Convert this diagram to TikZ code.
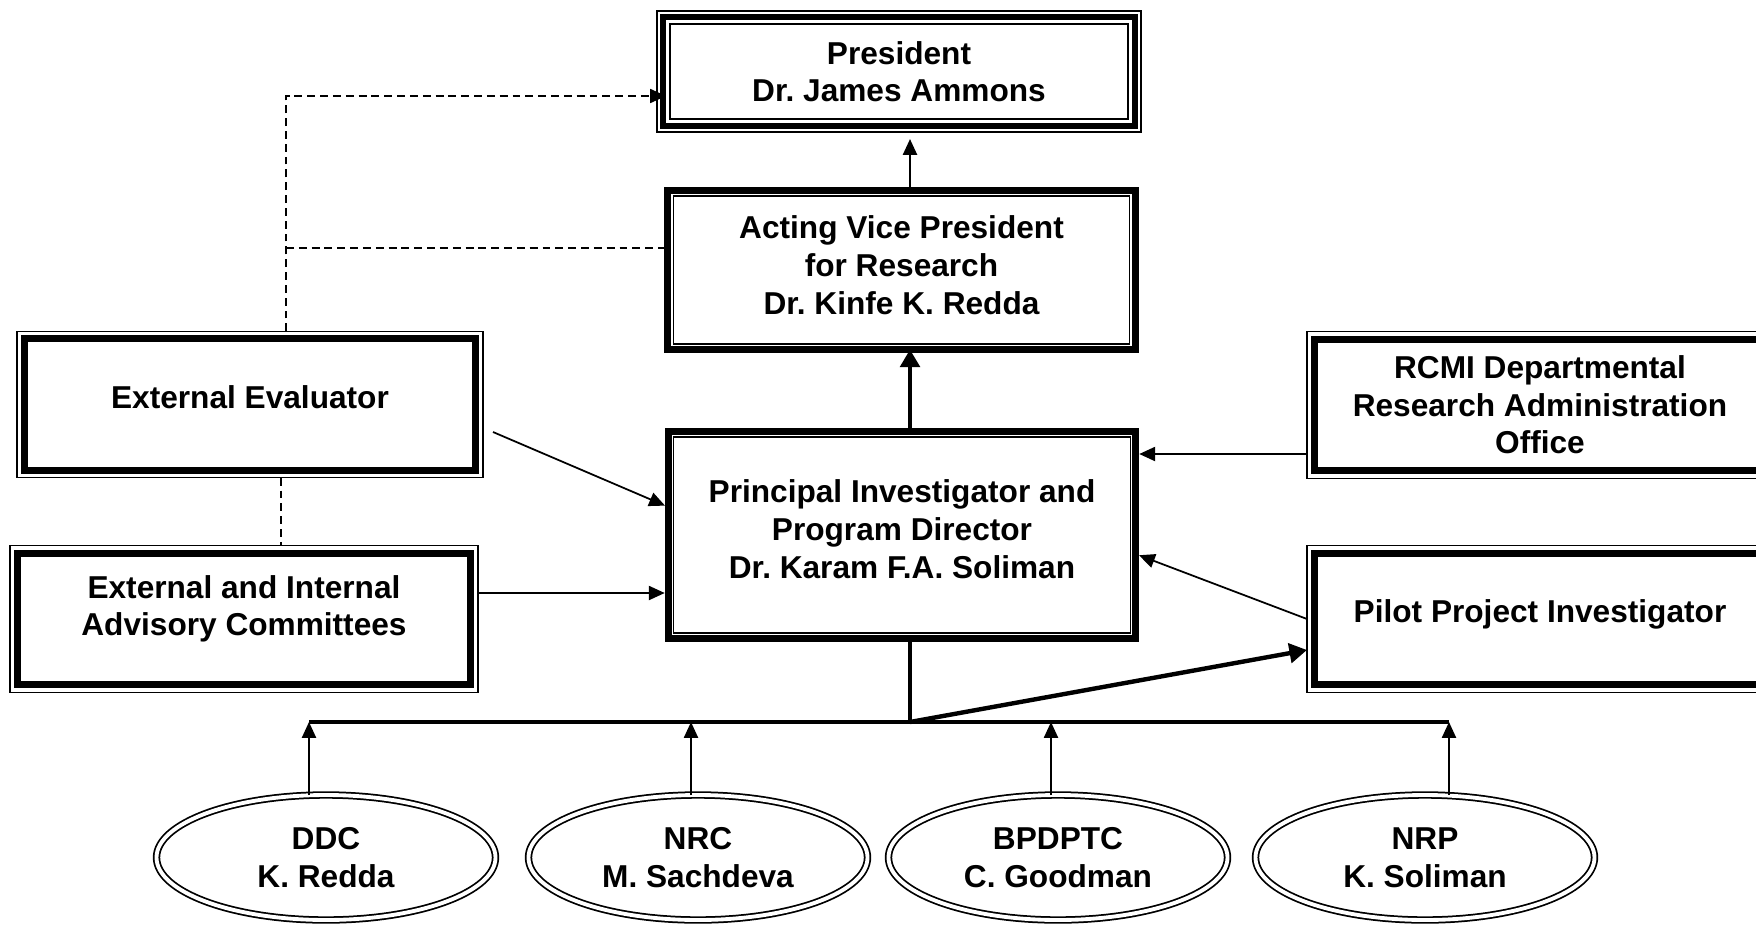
\documentclass[tikz,border=0pt]{standalone}
\usepackage{fontspec}
\setmainfont{Liberation Sans}
\usetikzlibrary{arrows.meta,shapes.geometric}
\frenchspacing

\begin{document}
\begin{tikzpicture}[
        every node/.style={font=\fontsize{18}{21.4}\selectfont\bfseries, align=center, inner sep=0pt, outer sep=0pt},
        thinbox/.style={draw, rectangle, line width=0.8pt, minimum width=9.32cm, minimum height=2.93cm},
        thickbox/.style={draw, rectangle, line width=4pt, minimum width=9.35cm},
        unit/.style={draw, ellipse, double, line width=1pt, double distance=2.2pt, minimum width=6.78cm, minimum height=2.5cm},
        link/.style={-{Triangle[length=9pt,width=8pt]}, line width=1pt},
        heavy/.style={-{Triangle[length=10pt,width=11pt]}, line width=2.5pt},
        dashline/.style={line width=0.8pt, dash pattern=on 4.5pt off 2.8pt}
    ]
        \path[fill=white, use as bounding box] (0,0) rectangle (35.12,-18.5);

        % top
        \node[thinbox, minimum width=9.68cm, minimum height=2.42cm] (pres) at (17.98,-1.43) {President\\Dr. James Ammons};
        \node[thickbox, minimum height=3.18cm, text depth=5.7pt] (vp) at (18.03,-5.4) {Acting Vice President\\for Research\\Dr. Kinfe K. Redda};
        \node[thickbox, minimum height=4.14cm, text depth=6.8pt] (pi) at (18.04,-10.7) {Principal Investigator and\\Program Director\\Dr. Karam F.A. Soliman};

        % left side
        \node[thinbox, text depth=9pt] (evaluator) at (5.0,-8.09) {External Evaluator};
        \node[thinbox, minimum width=9.36cm, text depth=15.2pt] (advisory) at (4.88,-12.38) {External and Internal\\Advisory Committees};

        % right side
        \node[thinbox] (rcmi) at (30.8,-8.1) {RCMI Departmental\\Research Administration\\Office};
        \node[thinbox, text depth=9.4pt] (pilot) at (30.8,-12.38) {Pilot Project Investigator};

        % cores
        \node[unit] (ddc) at (6.52,-17.15) {DDC\\K. Redda};
        \node[unit] (nrc) at (13.96,-17.15) {NRC\\M. Sachdeva};
        \node[unit] (bpdptc) at (21.16,-17.15) {BPDPTC\\C. Goodman};
        \node[unit] (nrp) at (28.5,-17.15) {NRP\\K. Soliman};

        % inner borders
        \draw[line width=3pt] ([shift={(0.12,-0.12)}]pres.north west) rectangle ([shift={(-0.12,0.12)}]pres.south east);
        \draw[line width=0.8pt] ([shift={(0.26,-0.26)}]pres.north west) rectangle ([shift={(-0.26,0.26)}]pres.south east);
        \foreach \n in {vp,pi}
            \draw[line width=0.8pt] ([shift={(0.11,-0.11)}]\n.north west) rectangle ([shift={(-0.11,0.11)}]\n.south east);
        \foreach \n in {evaluator,advisory,rcmi,pilot}
            \draw[line width=4pt] ([shift={(0.15,-0.15)}]\n.north west) rectangle ([shift={(-0.15,0.15)}]\n.south east);

        % dashed links
        \coordinate (dashtop) at (5.72,-1.92);
        \coordinate (dashlow) at (5.62,-10.24);
        \draw[dashline, -{Triangle[length=9pt,width=8pt]}] (evaluator.north -| dashtop) |- ([shift={(0.18,-0.49)}]pres.west);
        \draw[dashline] ([yshift=0.44cm]vp.west -| dashtop) -- ([yshift=0.44cm]vp.west);
        \draw[dashline] (evaluator.south -| dashlow) -- (advisory.north -| dashlow);

        % into the PI
        \draw[link, shorten >=2pt] ([shift={(0.2,-0.55)}]evaluator.east) -- ([yshift=0.56cm]pi.west);
        \draw[link, shorten >=2pt] ([yshift=0.52cm]advisory.east) -- ([yshift=0.52cm]advisory.east -| pi.west);
        \draw[link, shorten >=2pt] ([yshift=-0.98cm]rcmi.west) -- ([yshift=-0.98cm]rcmi.west -| pi.east);
        \draw[link, shorten >=2pt] (pilot.west) -- ([yshift=-0.38cm]pi.east);

        % spine
        \coordinate (hub) at (18.2,-14.44);
        \draw[heavy] (pi.north -| hub) -- (vp.south -| hub);
        \draw[link, line width=1.1pt, shorten >=4pt] (vp.north -| hub) -- (pres.south -| hub);
        \draw[line width=2.5pt] (pi.south -| hub) -- (hub);
        \draw[heavy] (hub) -- ([yshift=-0.62cm]pilot.west);

        % bus
        \coordinate (busL) at (6.18,-14.44);
        \coordinate (busR) at (28.98,-14.44);
        \draw[line width=2.8pt] (busL) -- (busR);
        \foreach \n/\dx in {ddc/-0.34, nrc/-0.14, bpdptc/-0.14, nrp/0.48}
            \draw[link] ([xshift=\dx cm]\n.north) -- ([xshift=\dx cm]\n.north |- busL);
\end{tikzpicture}
\end{document}
